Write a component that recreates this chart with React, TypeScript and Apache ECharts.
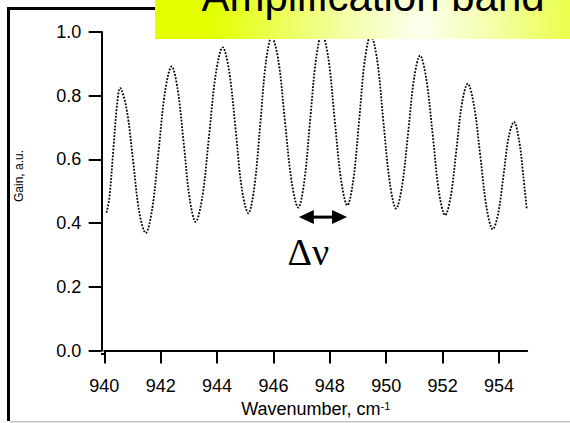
import React, { useEffect, useRef } from 'react';
import * as echarts from 'echarts';

// Data (dotted gain curve)
const wavenumber = [
  940.08, 940.18, 940.32, 940.45, 940.56, 940.79, 941.02, 941.24, 941.47, 941.7,
  941.93, 942.16, 942.39, 942.6, 942.82, 943.03, 943.24, 943.48, 943.72, 943.96,
  944.2, 944.43, 944.66, 944.88, 945.11, 945.32, 945.53, 945.73, 945.94, 946.18,
  946.41, 946.65, 946.88, 947.09, 947.3, 947.51, 947.72, 947.95, 948.17, 948.4,
  948.62, 948.83, 949.04, 949.24, 949.45, 949.68, 949.9, 950.13, 950.35, 950.56,
  950.78, 950.99, 951.2, 951.42, 951.65, 951.87, 952.09, 952.29, 952.49, 952.69,
  952.89, 953.11, 953.34, 953.56, 953.78, 953.97, 954.16, 954.34, 954.53, 954.72,
  954.86, 954.98,
];
const gain = [
  0.433, 0.48, 0.63, 0.77, 0.824, 0.758, 0.597, 0.435, 0.369, 0.445,
  0.63, 0.816, 0.892, 0.821, 0.648, 0.475, 0.404, 0.484, 0.678, 0.872,
  0.952, 0.876, 0.692, 0.507, 0.431, 0.512, 0.708, 0.904, 0.985, 0.907,
  0.717, 0.527, 0.449, 0.529, 0.722, 0.915, 0.995, 0.916, 0.726, 0.535,
  0.456, 0.534, 0.723, 0.912, 0.99, 0.911, 0.718, 0.525, 0.446, 0.516,
  0.686, 0.856, 0.926, 0.853, 0.676, 0.498, 0.425, 0.485, 0.631, 0.778,
  0.8375, 0.771, 0.609, 0.448, 0.381, 0.43, 0.55, 0.669, 0.718, 0.655,
  0.55, 0.446,
];
const xTicks = [940, 942, 944, 946, 948, 950, 952, 954];
const yTicks = [0, 0.2, 0.4, 0.6, 0.8, 1.0];
// Annotation anchors (data space)
const arrowFrom = 946.9;
const arrowTo = 948.61;
const arrowY = 0.419;
const deltaNuPos = [947.24, 0.309];

const FONT = '"Liberation Sans", Arial, Helvetica, sans-serif';

export default function App() {
  const ref = useRef<HTMLDivElement>(null);
  useEffect(() => {
    const chart = echarts.init(ref.current!, null, { renderer: 'svg' });
    const data = wavenumber.map((w, i) => [w, gain[i]]);
    chart.setOption({
      animation: false,
      backgroundColor: '#ffffff',
      grid: { left: 104.3, right: 42.8, top: 32, bottom: 71, containLabel: false },
      xAxis: {
        type: 'value',
        min: 940,
        max: 955,
        interval: 2,
        offset: 2,
        axisLine: { lineStyle: { color: '#000', width: 2 } },
        axisTick: { length: 13, lineStyle: { color: '#000', width: 2 }, customValues: xTicks },
        axisLabel: { customValues: xTicks, margin: 24.5, fontSize: 18, color: '#000', fontFamily: FONT },
        splitLine: { show: false },
        name: 'Wavenumber, cm{sup|-1}',
        nameLocation: 'middle',
        nameGap: 45,
        nameTextStyle: {
          fontSize: 18,
          color: '#000',
          fontFamily: FONT,
          rich: { sup: { fontSize: 11, verticalAlign: 'top', color: '#000', fontFamily: FONT } },
        },
      },
      yAxis: {
        type: 'value',
        min: 0,
        max: 1,
        interval: 0.2,
        offset: 2.6,
        axisLine: { show: true, lineStyle: { color: '#000', width: 2 } },
        axisTick: { show: true, length: 13, lineStyle: { color: '#000', width: 2 }, customValues: yTicks },
        axisLabel: {
          customValues: yTicks,
          margin: 20.5,
          fontSize: 18,
          color: '#000',
          fontFamily: FONT,
          formatter: (v: number) => v.toFixed(1),
        },
        splitLine: { show: false },
      },
      series: [
        {
          type: 'line',
          data,
          smooth: 0.35,
          showSymbol: false,
          symbol: 'none',
          lineStyle: { color: '#000', width: 1.8, type: [1.8, 1.5] },
          z: 2,
        },
      ],
    });

    const a = chart.convertToPixel({ gridIndex: 0 }, [arrowFrom, arrowY]) as number[];
    const b = chart.convertToPixel({ gridIndex: 0 }, [arrowTo, arrowY]) as number[];
    const t = chart.convertToPixel({ gridIndex: 0 }, deltaNuPos) as number[];
    const headL = 15;
    const headW = 7;

    chart.setOption({
      graphic: [
        // frame
        { type: 'rect', shape: { x: 7, y: 7, width: 3, height: 414 }, style: { fill: '#000' }, z: 50 },
        { type: 'rect', shape: { x: 7, y: 7, width: 200, height: 3 }, style: { fill: '#000' }, z: 50 },
        { type: 'rect', shape: { x: 10, y: 421, width: 560, height: 1.5 }, style: { fill: '#c4c4c4' }, z: 50 },
        // x axis line extension to meet the y axis
        { type: 'line', shape: { x1: 101, y1: 354, x2: 105, y2: 354 }, style: { stroke: '#000', lineWidth: 2 }, z: 50 },
        // yellow title box
        {
          type: 'rect',
          shape: { x: 155, y: -2, width: 420, height: 41 },
          style: {
            fill: new echarts.graphic.RadialGradient(
              420,
              26,
              210,
              [
                { offset: 0, color: '#fdfff0' },
                { offset: 0.35, color: '#f4ffa8' },
                { offset: 1, color: '#e3ff00' },
              ],
              true
            ),
          },
          z: 100,
        },
        {
          type: 'text',
          x: 373,
          y: -4,
          style: {
            text: 'Amplification band',
            fontSize: 42,
            fontFamily: FONT,
            fill: '#000',
            align: 'center',
            verticalAlign: 'middle',
          },
          z: 101,
        },
        // y axis title
        {
          type: 'text',
          x: 19,
          y: 176,
          rotation: Math.PI / 2,
          style: {
            text: 'Gain, a.u.',
            fontSize: 12,
            fontFamily: FONT,
            fill: '#000',
            align: 'center',
            verticalAlign: 'middle',
          },
          z: 60,
        },
        // double arrow
        {
          type: 'line',
          shape: { x1: a[0] + headL - 1, y1: a[1], x2: b[0] - headL + 1, y2: b[1] },
          style: { stroke: '#000', lineWidth: 3 },
          z: 60,
        },
        {
          type: 'polygon',
          shape: { points: [[a[0], a[1]], [a[0] + headL, a[1] - headW], [a[0] + headL, a[1] + headW]] },
          style: { fill: '#000' },
          z: 60,
        },
        {
          type: 'polygon',
          shape: { points: [[b[0], b[1]], [b[0] - headL, b[1] - headW], [b[0] - headL, b[1] + headW]] },
          style: { fill: '#000' },
          z: 60,
        },
        {
          type: 'text',
          x: t[0],
          y: t[1],
          style: {
            text: 'Δν',
            fontSize: 38,
            fontFamily: '"Liberation Serif", "Times New Roman", serif',
            fill: '#000',
            align: 'center',
            verticalAlign: 'middle',
          },
          z: 60,
        },
      ],
    });

    return () => chart.dispose();
  }, []);

  return (
    <div
      ref={ref}
      style={{ position: 'absolute', left: 0, top: 0, width: 570, height: 423 }}
    />
  );
}
